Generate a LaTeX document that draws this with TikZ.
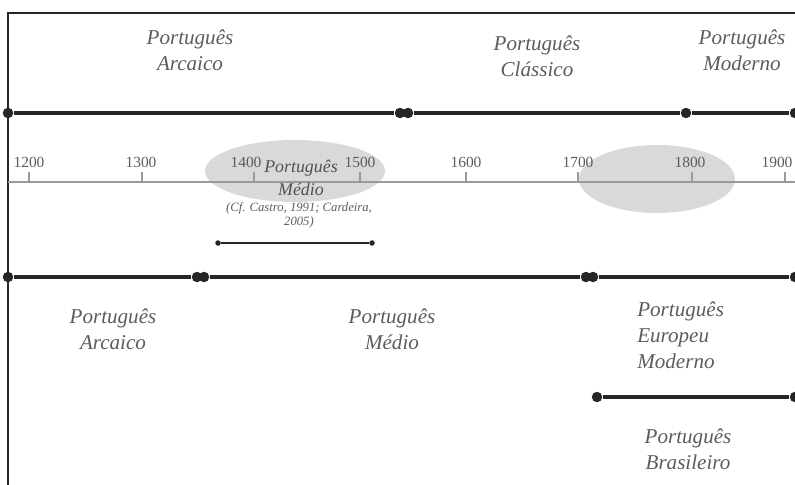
\documentclass[tikz,border=0pt]{standalone}
\usepackage{fontspec}
\setmainfont{Liberation Serif}
\usetikzlibrary{positioning,calc,shapes}
\definecolor{inkgray}{HTML}{5C5C5C}
\definecolor{linedark}{HTML}{262626}
\definecolor{hazegray}{HTML}{D9D9DB}
\definecolor{axisgray}{HTML}{9A9A9A}
\tikzset{
	x=0.025cm, y=-0.025cm,
	era/.style = {font=\fontsize{15}{18.5}\selectfont\itshape, text=inkgray, align=center, inner sep=0pt},
	year/.style = {font=\fontsize{11}{13}\selectfont, text=inkgray, inner sep=0pt},
	big dot/.style = {circle, fill=linedark, inner sep=0pt, minimum size=10.5*0.025cm},
	small dot/.style = {circle, fill=linedark, inner sep=0pt, minimum size=5.5*0.025cm},
	period/.style = {draw=linedark, line width=4*0.025cm},
	span/.style = {draw=linedark, line width=1.8*0.025cm},
	haze/.style = {ellipse, fill=hazegray, inner sep=0pt}
}

\begin{document}
\begin{tikzpicture}
	\useasboundingbox (0,0) rectangle (795,485);
	% frame
	\draw[linedark, line width=1.5*0.025cm] (8,485) -- (8,13) -- (795,13);
	% shaded zones
	\node[haze, minimum width=180*0.025cm, minimum height=62*0.025cm] (zone1) at (295,171) {};
	\node[haze, minimum width=156*0.025cm, minimum height=68*0.025cm] (zone2) at (657,179) {};
	% axis with years
	\coordinate (a0) at (8,182);
	\coordinate (a1) at (795,182);
	\draw[axisgray, line width=2*0.025cm] (a0) -- (a1);
	\foreach \yr/\x/\lx in {1200/29/29,1300/142/141,1400/254/246,1500/360/360,1600/466/466,1700/578/578,1800/692/690,1900/785/777}{
		\coordinate (k\yr) at (\x,182);
		\draw[axisgray, line width=1.2*0.025cm] (k\yr) -- ++(0,-10);
		\node[year] (y\yr) at (\lx,162) {\yr};
	}
	% upper periodisation
	\node[big dot] (t0) at (8,113) {};
	\node[big dot] (t1) at (400,113) {};
	\node[big dot] (t2) at (408,113) {};
	\node[big dot] (t3) at (686,113) {};
	\node[big dot] (t4) at (795,113) {};
	\draw[period] (t0) -- (t1);
	\draw[period] (t2) -- (t3);
	\draw[period] (t3) -- (t4);
	\node[era] (arc1) at (190,50) {Português\\Arcaico};
	\node[era] (cla) at (537,56) {Português\\Clássico};
	\node[era] (mod) at (742,50) {Português\\Moderno};
	% middle period
	\node[era, font=\fontsize{12.7}{16}\selectfont\itshape, text=linedark!80] (med1) at (301,178) {Português\\Médio};
	\node[era, font=\fontsize{9}{10}\selectfont\itshape] (cit) at (299,215) {(Cf. Castro, 1991; Cardeira,\\2005)};
	\node[small dot] (m0) at (218,243) {};
	\node[small dot] (m1) at (372,243) {};
	\draw[span] (m0) -- (m1);
	% lower periodisation
	\node[big dot] (b0) at (8,277) {};
	\node[big dot] (b1) at (197,277) {};
	\node[big dot] (b2) at (204,277) {};
	\node[big dot] (b3) at (586,277) {};
	\node[big dot] (b4) at (593,277) {};
	\node[big dot] (b5) at (795,277) {};
	\draw[period] (b0) -- (b1);
	\draw[period] (b2) -- (b3);
	\draw[period] (b4) -- (b5);
	\node[era] (arc2) at (113,329) {Português\\Arcaico};
	\node[era] (med2) at (392,329) {Português\\Médio};
	\node[era, align=left, anchor=west] (eur) at (637,335) {Português\\Europeu\\Moderno};
	% brazilian branch
	\node[big dot] (r0) at (597,397) {};
	\node[big dot] (r1) at (795,397) {};
	\draw[period] (r0) -- (r1);
	\node[era] (bra) at (688,449) {Português\\Brasileiro};
\end{tikzpicture}
\end{document}
